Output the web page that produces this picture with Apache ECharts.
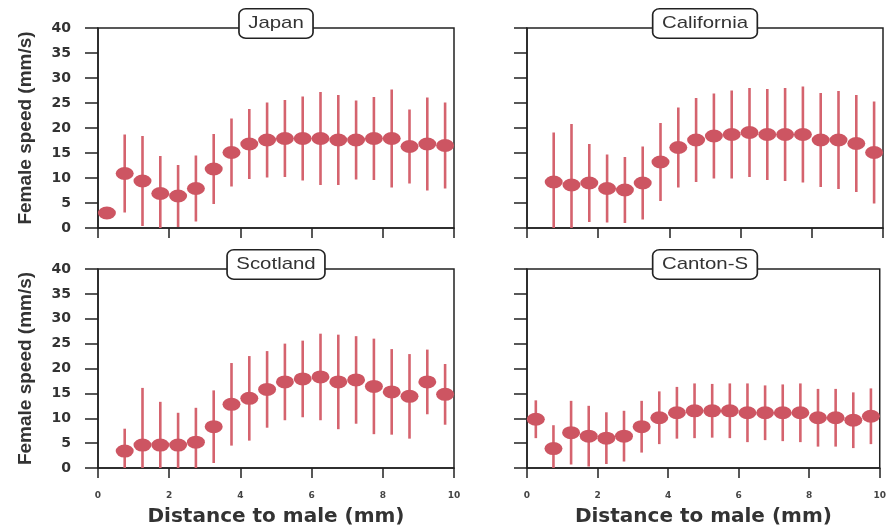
<!DOCTYPE html>
<html>
<head>
<meta charset="utf-8">
<title>Female speed vs distance to male</title>
<script src="https://cdn.jsdelivr.net/npm/echarts@6/dist/echarts.min.js"></script>
<style>
  html, body { margin: 0; padding: 0; background: #fff; }
  #chart { width: 889px; height: 529px; }
</style>
</head>
<body>
<div id="chart"></div>
<script>
// Bin centres (mm) shared by every strain
const distance = [0.25, 0.75, 1.25, 1.75, 2.25, 2.75, 3.25, 3.75, 4.25, 4.75,
                  5.25, 5.75, 6.25, 6.75, 7.25, 7.75, 8.25, 8.75, 9.25, 9.75];

// Mean female speed (mm/s) and half-width of the error bar, per bin
const japanMean = [3.0, 10.9, 9.4, 6.9, 6.4, 7.9, 11.8, 15.1, 16.8, 17.6,
                   17.9, 17.9, 17.9, 17.6, 17.6, 17.9, 17.9, 16.3, 16.8, 16.5];
const japanErr  = [0, 7.8, 9.0, 7.5, 6.2, 6.6, 7.0, 6.8, 7.0, 7.5,
                   7.7, 8.4, 9.3, 9.0, 7.9, 8.3, 9.8, 7.4, 9.3, 8.6];

const californiaMean = [null, 9.2, 8.6, 9.0, 7.9, 7.6, 9.0, 13.2, 16.1, 17.6,
                        18.4, 18.7, 19.1, 18.7, 18.7, 18.7, 17.6, 17.6, 16.9, 15.1];
const californiaErr  = [null, 9.9, 12.2, 7.8, 6.8, 6.6, 7.3, 7.8, 8.0, 8.4,
                        8.5, 8.8, 8.9, 9.1, 9.3, 9.6, 9.4, 9.8, 9.7, 10.2];

const scotlandMean = [null, 3.4, 4.6, 4.6, 4.6, 5.2, 8.3, 12.8, 14.0, 15.8,
                      17.3, 17.9, 18.3, 17.3, 17.7, 16.4, 15.3, 14.4, 17.3, 14.8];
const scotlandErr  = [null, 4.5, 11.5, 8.7, 6.5, 6.9, 7.3, 8.3, 8.5, 7.7,
                      7.7, 7.7, 8.7, 9.5, 8.8, 9.6, 8.6, 8.5, 6.5, 6.1];

const cantonMean = [9.8, 3.9, 7.1, 6.4, 6.0, 6.4, 8.3, 10.1, 11.1, 11.5,
                    11.5, 11.5, 11.1, 11.1, 11.1, 11.1, 10.1, 10.1, 9.6, 10.4];
const cantonErr  = [3.8, 4.7, 6.4, 6.1, 5.2, 5.1, 5.2, 5.3, 5.2, 5.5,
                    5.4, 5.5, 5.9, 5.5, 5.7, 5.9, 5.8, 5.8, 5.6, 5.6];

const strainNames = ['Japan', 'California', 'Scotland', 'Canton-S'];
const strainMeans = [japanMean, californiaMean, scotlandMean, cantonMean];
const strainErrs  = [japanErr, californiaErr, scotlandErr, cantonErr];

// Axis ranges and tick steps
const xMin = 0, xMax = 10, xStep = 2;
const yMin = 0, yMax = 40, yStep = 5;

// Panel layout (2 x 2)
const panelBoxes = [
  { left: 98,  top: 28,  width: 356, height: 200 },
  { left: 527, top: 28,  width: 356, height: 200 },
  { left: 98,  top: 269, width: 356, height: 199 },
  { left: 527, top: 269, width: 356, height: 199 }
];

const ink = '#222';
const textInk = '#333';
const markColor = '#cd5562';
const barColor = '#d5636e';

const grids = [], xAxes = [], yAxes = [], series = [], labels = [];

panelBoxes.forEach(function (box, i) {
  const isLeft = i % 2 === 0;
  const isBottom = i >= 2;

  grids.push(Object.assign({
    show: true, borderColor: ink, borderWidth: 1.5, backgroundColor: '#fff'
  }, box));

  xAxes.push({
    gridIndex: i, type: 'value', min: xMin, max: xMax, interval: xStep,
    splitLine: { show: false },
    axisLine: { lineStyle: { color: ink, width: 1.5 } },
    axisTick: { show: true, inside: false, length: 10, lineStyle: { color: ink, width: 1.5 } },
    axisLabel: {
      show: isBottom, margin: 23, color: '#444',
      fontFamily: 'DejaVu Sans', fontWeight: 'bold', fontSize: 9
    },
    name: isBottom ? 'Distance to male (mm)' : '',
    nameLocation: 'middle', nameGap: 39,
    nameTextStyle: { color: textInk, fontFamily: 'DejaVu Sans', fontWeight: 'bold', fontSize: 20 }
  });

  yAxes.push({
    gridIndex: i, type: 'value', min: yMin, max: yMax, interval: yStep,
    splitLine: { show: false },
    axisLine: { lineStyle: { color: ink, width: 1.5 } },
    axisTick: { show: true, inside: false, length: 13, lineStyle: { color: ink, width: 1.5 } },
    axisLabel: {
      show: isLeft, margin: 27, color: textInk,
      fontFamily: 'DejaVu Sans', fontWeight: 'bold', fontSize: 14
    },
    name: isLeft ? 'Female speed (mm/s)' : '',
    nameLocation: 'middle', nameGap: 63,
    nameTextStyle: { color: textInk, fontFamily: 'Liberation Sans', fontWeight: 'bold', fontSize: 19 }
  });

  const means = strainMeans[i], errs = strainErrs[i];
  const points = [];
  distance.forEach(function (d, k) {
    if (means[k] !== null) points.push([d, means[k], errs[k]]);
  });

  // vertical error bars, cut at the axis range
  series.push({
    type: 'custom', xAxisIndex: i, yAxisIndex: i, z: 2, silent: true,
    data: points,
    renderItem: function (params, api) {
      const x = api.value(0), m = api.value(1), e = api.value(2);
      if (!e) return null;
      const p1 = api.coord([x, Math.max(m - e, yMin)]);
      const p2 = api.coord([x, Math.min(m + e, yMax)]);
      return {
        type: 'line',
        shape: { x1: p1[0], y1: p1[1], x2: p2[0], y2: p2[1] },
        style: { stroke: barColor, lineWidth: 2.6 }
      };
    }
  });

  // mean markers
  series.push({
    type: 'scatter', xAxisIndex: i, yAxisIndex: i, z: 3, silent: true,
    symbol: 'circle', symbolSize: [18, 13],
    itemStyle: { color: markColor, opacity: 1 },
    data: points.map(function (p) { return [p[0], p[1]]; })
  });

  // strain name in a rounded box straddling the top edge of the panel
  labels.push({
    type: 'text', z: 50, silent: true,
    x: box.left + box.width / 2, y: box.top - 4.5,
    scaleX: 1.2,
    style: {
      text: strainNames[i],
      fontFamily: 'Liberation Sans', fontSize: 17, lineHeight: 18,
      fill: textInk, align: 'center', verticalAlign: 'middle',
      backgroundColor: '#fff', borderColor: ink, borderWidth: 1.4, borderRadius: 5,
      padding: [5, 7]
    }
  });
});

const chart = echarts.init(document.getElementById('chart'), null, { renderer: 'canvas' });
chart.setOption({
  animation: false,
  backgroundColor: '#fff',
  grid: grids,
  xAxis: xAxes,
  yAxis: yAxes,
  series: series,
  graphic: labels
});
</script>
</body>
</html>
